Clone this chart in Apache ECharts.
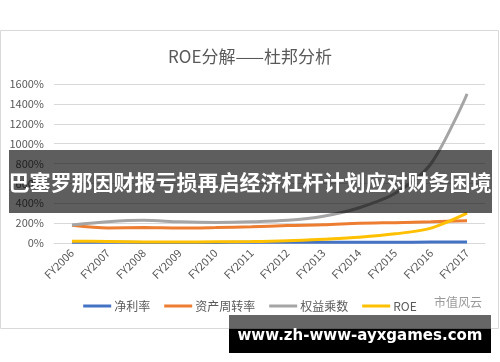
<!DOCTYPE html>
<html><head><meta charset="utf-8">
<script src="https://cdn.jsdelivr.net/npm/echarts@6/dist/echarts.min.js"></script>
<style>html,body{margin:0;padding:0;background:#fff}#c{width:500px;height:362px}</style>
</head><body><div id="c"></div>
<script>
const categories = ['FY2006','FY2007','FY2008','FY2009','FY2010','FY2011','FY2012','FY2013','FY2014','FY2015','FY2016','FY2017'];
const netMargin = [8,7,6,6,6,7,7,8,8,8,9,10];
const assetTurnover = [178,152,155,150,155,163,176,183,198,205,213,225];
const equityMultiplier = [180,213,228,213,207,213,228,270,355,500,800,1500];
const roe = [18,15,10,9,12,14,22,38,58,92,150,300];
const yTicks = {min:0, max:1600, interval:200};
const seriesNames = ['净利率','资产周转率','权益乘数','ROE'];
const titleText = 'ROE分解——杜邦分析';
const bannerText = '巴塞罗那因财报亏损再启经济杠杆计划应对财务困境';
const urlText = 'www.zh-www-ayxgames.com';
const watermarkText = '市值风云';

const colors = ['#4472C4','#ED7D31','#A5A5A5','#FFC000'];
const dataSets = [netMargin, assetTurnover, equityMultiplier, roe];
const font = '"Noto Sans CJK SC", "Noto Sans", sans-serif';
const chart = echarts.init(document.getElementById('c'));
chart.setOption({
  animation:false,
  color: colors,
  title:{text:titleText, left:'center', top:43, textStyle:{fontFamily:font, fontSize:17, fontWeight:'normal', color:'#595959'}},
  grid:{left:54, right:15, top:84, bottom:119, containLabel:false},
  legend:{top:295, left:'center', data:seriesNames, icon:'rect', itemWidth:28, itemHeight:3, itemGap:14,
    textStyle:{fontFamily:font, fontSize:12, color:'#595959', padding:[0,0,0,-2]}},
  xAxis:{type:'category', data:categories, boundaryGap:true,
    axisLine:{show:true, lineStyle:{color:'#d9d9d9'}}, axisTick:{show:false},
    axisLabel:{rotate:45, fontFamily:font, fontSize:11, color:'#595959', margin:8}},
  yAxis:{type:'value', min:yTicks.min, max:yTicks.max, interval:yTicks.interval,
    axisLine:{show:false}, axisTick:{show:false},
    splitLine:{lineStyle:{color:'#d9d9d9'}},
    axisLabel:{formatter:v=>String(v)+'%', fontFamily:font, fontSize:11, color:'#595959', margin:10}},
  series: seriesNames.map((n,i)=>({name:n, type:'line', data:dataSets[i], smooth:0.3, showSymbol:false, symbol:'none',
    lineStyle:{width:3, color:colors[i]}, z:2+i})),
  graphic:[
    {type:'rect', z:-10, shape:{x:0.5,y:30.5,width:498,height:298}, style:{fill:null, stroke:'#d9d9d9', lineWidth:1}},
    {type:'text', z:50, left:434, top:296, style:{text:watermarkText, font:'12px '+font, fill:'#9a9a9a'}},
    {type:'rect', z:100, shape:{x:9,y:150,width:483,height:63}, style:{fill:'rgba(0,0,0,0.63)'}},
    {type:'text', z:101, x:250, y:182, style:{text:bannerText, font:'bold 21px '+font, fill:'#fff', textAlign:'center', textVerticalAlign:'middle'}},
    {type:'rect', z:100, shape:{x:229,y:315,width:262,height:14}, style:{fill:'rgba(0,0,0,0.6)'}},
    {type:'rect', z:100, shape:{x:229,y:329,width:262,height:24}, style:{fill:'#000'}},
    {type:'text', z:101, x:360, y:336, style:{text:urlText, font:'bold 15px "DejaVu Sans", sans-serif', fill:'#fff', textAlign:'center', textVerticalAlign:'middle'}}
  ]
});
</script></body></html>
